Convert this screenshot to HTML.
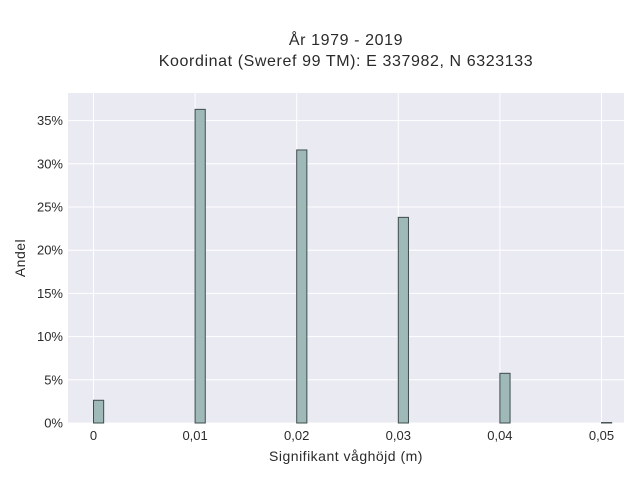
<!DOCTYPE html>
<html><head><meta charset="utf-8"><style>
body{margin:0;background:#fff;}
svg{font-family:"Liberation Sans",sans-serif;}
</style></head><body>
<svg width="640" height="480" id="c">
<text x="346" y="45" text-anchor="middle" font-size="16" letter-spacing="0.6" fill="#2a2a2a">År 1979 - 2019</text>
<text x="346" y="66" text-anchor="middle" font-size="16" letter-spacing="0.6" fill="#2a2a2a">Koordinat (Sweref 99 TM): E 337982, N 6323133</text>
<rect x="68" y="93" width="556" height="330" fill="#eaeaf2"/>
<g id="grid"></g><g id="bars"></g><g id="ticks"></g>
<text x="346" y="461" text-anchor="middle" font-size="14" letter-spacing="0.5" fill="#2a2a2a">Signifikant våghöjd (m)</text>
<text transform="translate(25,258) rotate(-90)" text-anchor="middle" font-size="14" letter-spacing="0.5" fill="#2a2a2a">Andel</text>
</svg>
<script>
const categories=[0,0.01,0.02,0.03,0.04,0.05];
const values=[2.63,36.3,31.6,23.8,5.75,0.05];
const xTickLabels=["0","0,01","0,02","0,03","0,04","0,05"];
const yTicks=[0,5,10,15,20,25,30,35];
const NS="http://www.w3.org/2000/svg";
const X=v=>93.5+v*(601.5-93.5)/0.05;
const Y=v=>423-v*8.64;
function mk(t,a,p){const e=document.createElementNS(NS,t);for(const k in a)e.setAttribute(k,a[k]);p.appendChild(e);return e;}
const grid=document.getElementById('grid'),bars=document.getElementById('bars'),ticks=document.getElementById('ticks');
yTicks.forEach(t=>{
 const l=mk('line',{x1:68,x2:624,y1:Y(t),y2:Y(t),stroke:'#fff','stroke-width':1},grid);
 
 
 const tx=mk('text',{x:63,y:Y(t)+4.5,'text-anchor':'end','font-size':13,fill:'#2a2a2a'},ticks);
 tx.textContent=t+'%';
 
 
});
categories.forEach((c,i)=>{
 const l=mk('line',{x1:X(c),x2:X(c),y1:93,y2:423,stroke:'#fff','stroke-width':1},grid);
 
 
 const tx=mk('text',{x:X(c),y:440,'text-anchor':'middle','font-size':13,fill:'#2a2a2a'},ticks);
 tx.textContent=xTickLabels[i];
 
 
 const w=X(0.001)-X(0);
 const b=mk('rect',{x:X(c),y:Y(values[i]),width:w,height:Y(0)-Y(values[i]),fill:'#9fb9b9',stroke:'#3f4c4c','stroke-width':1},bars);
 
 
});
</script>
</body></html>
